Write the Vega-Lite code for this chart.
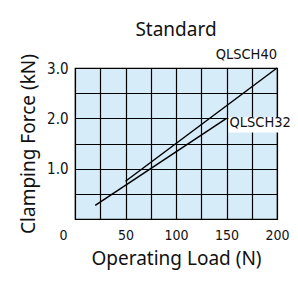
{
  "$schema": "https://vega.github.io/schema/vega-lite/v6.json",
  "width": 202,
  "height": 151,
  "autosize": {"type": "none"},
  "padding": {"left": 75, "top": 68, "right": 21, "bottom": 64},
  "background": "white",
  "title": {
    "text": "Standard",
    "font": "Noto Sans",
    "fontSize": 19,
    "fontWeight": "normal",
    "color": "#111",
    "anchor": "middle",
    "frame": "group",
    "baseline": "bottom",
    "offset": 10,
    "dy": 22
  },
  "config": {
    "view": {"fill": "#d6ecf9", "stroke": "black", "strokeWidth": 1.2}
  },
  "datasets": {
    "curves": [
      {"model": "QLSCH40", "load": 50, "force": 0.75},
      {"model": "QLSCH40", "load": 200, "force": 3.0},
      {"model": "QLSCH32", "load": 20, "force": 0.27},
      {"model": "QLSCH32", "load": 150, "force": 2.0}
    ],
    "labels": [
      {"model": "QLSCH40", "load": 200, "force": 3.0}
    ],
    "labels2": [
      {"model": "QLSCH32", "load": 150, "force": 2.0}
    ]
  },
  "layer": [
    {
      "data": {"name": "curves"},
      "mark": {"type": "line", "color": "black", "strokeWidth": 1.5},
      "encoding": {
        "x": {
          "field": "load",
          "type": "quantitative",
          "scale": {"domain": [0, 200], "nice": false},
          "axis": {
            "values": [0, 25, 50, 75, 100, 125, 150, 175, 200],
            "tickCount": 50,
            "labelOpacity": {"condition": {"test": "datum.value % 50 != 0", "value": 0}, "value": 1},
            "labelOverlap": false,
            "grid": true,
            "gridColor": "black",
            "gridWidth": 1.2,
            "gridOpacity": 1,
            "domain": false,
            "ticks": false,
            "labelFlush": false,
            "labelFont": "DejaVu Sans Condensed",
            "labelFontSize": 14,
            "labelColor": "#111",
            "labelPadding": 9,
            "labelOffset": {"condition": {"test": "datum.value == 0", "value": -12}, "value": 0},
            "title": "Operating Load (N)",
            "titleFont": "Noto Sans",
            "titleFontSize": 19,
            "titleFontWeight": "normal",
            "titleColor": "#111",
            "titlePadding": 7
          }
        },
        "y": {
          "field": "force",
          "type": "quantitative",
          "scale": {"domain": [0, 3], "nice": false},
          "axis": {
            "values": [0, 0.5, 1, 1.5, 2, 2.5, 3],
            "tickCount": 50,
            "format": ".1f",
            "labelOpacity": {"condition": {"test": "datum.value < 1 || datum.value % 1 != 0", "value": 0}, "value": 1},
            "labelOverlap": false,
            "grid": true,
            "gridColor": "black",
            "gridWidth": 1.2,
            "gridOpacity": 1,
            "domain": false,
            "ticks": false,
            "labelFlush": false,
            "labelFont": "DejaVu Sans Condensed",
            "labelFontSize": 15,
            "labelColor": "#111",
            "labelPadding": 7,
            "title": "Clamping Force (kN)",
            "titleFont": "Noto Sans",
            "titleFontSize": 19,
            "titleFontWeight": "normal",
            "titleColor": "#111",
            "titlePadding": 8
          }
        },
        "detail": {"field": "model"}
      }
    },
    {
      "data": {"name": "labels"},
      "mark": {"type": "text", "align": "right", "baseline": "bottom", "dy": -6, "font": "DejaVu Sans Condensed", "fontSize": 14.5, "color": "#111"},
      "encoding": {
        "x": {"field": "load", "type": "quantitative"},
        "y": {"field": "force", "type": "quantitative"},
        "text": {"field": "model"}
      }
    },
    {
      "data": {"name": "labels2"},
      "mark": {"type": "rect", "fill": "white"},
      "encoding": {
        "x": {"datum": 152},
        "x2": {"datum": 214},
        "y": {"datum": 2.02},
        "y2": {"datum": 1.72}
      }
    },
    {
      "data": {"name": "labels2"},
      "mark": {"type": "text", "align": "left", "baseline": "top", "dx": 3, "dy": -2, "font": "DejaVu Sans Condensed", "fontSize": 14.5, "color": "#111"},
      "encoding": {
        "x": {"field": "load", "type": "quantitative"},
        "y": {"field": "force", "type": "quantitative"},
        "text": {"field": "model"}
      }
    }
  ]
}
